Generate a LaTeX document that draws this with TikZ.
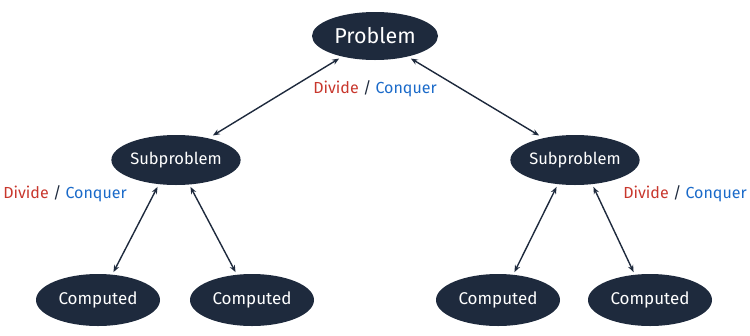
\documentclass[tikz,border=0pt]{standalone}
\usepackage{fontspec}
\setmainfont{Fira Sans}
\usetikzlibrary{arrows.meta,shapes.geometric}
\definecolor{navy}{HTML}{1E2A3D}
\definecolor{dred}{HTML}{C8372D}
\definecolor{dblue}{HTML}{1A6AC9}
\tikzset{
  blob/.style={ellipse, fill=navy, text=white, inner sep=0pt},
  conn/.style={draw=navy, line width=1.4pt, {Stealth[length=7pt,width=5.5pt]}-{Stealth[length=7pt,width=5.5pt]}, shorten <=1pt, shorten >=1pt},
  lbl/.style={font=\fontsize{16}{18}\selectfont, inner sep=0pt}
}
\begin{document}
\begin{tikzpicture}[x=1pt,y=-1pt]
\useasboundingbox (0,0) rectangle (750,335);
\node[blob, minimum width=126pt, minimum height=48pt, font=\fontsize{21.5}{24}\selectfont] (p) at (375,36) {Problem};
\node[blob, minimum width=124pt, minimum height=50pt, font=\fontsize{16.5}{19}\selectfont] (sl) at (176,160) {Subproblem};
\node[blob, minimum width=124pt, minimum height=50pt, font=\fontsize{16.5}{19}\selectfont] (sr) at (575,160) {Subproblem};
\node[blob, minimum width=124pt, minimum height=52pt, font=\fontsize{17}{19}\selectfont] (c1) at (98,300) {Computed};
\node[blob, minimum width=124pt, minimum height=52pt, font=\fontsize{17}{19}\selectfont] (c2) at (252,300) {Computed};
\node[blob, minimum width=124pt, minimum height=52pt, font=\fontsize{17}{19}\selectfont] (c3) at (498,300) {Computed};
\node[blob, minimum width=124pt, minimum height=52pt, font=\fontsize{17}{19}\selectfont] (c4) at (650,300) {Computed};
\coordinate (p1) at (340,58); \coordinate (p2) at (410,58);
\coordinate (a1) at (212,136); \coordinate (a2) at (540,136);
\coordinate (l1) at (158,186); \coordinate (l2) at (190,186);
\coordinate (r1) at (557,186); \coordinate (r2) at (593,186);
\coordinate (b1) at (113,273); \coordinate (b2) at (236,273);
\coordinate (b3) at (514,273); \coordinate (b4) at (634,273);
\draw[conn] (p1) -- (a1);
\draw[conn] (p2) -- (a2);
\draw[conn] (l1) -- (b1);
\draw[conn] (l2) -- (b2);
\draw[conn] (r1) -- (b3);
\draw[conn] (r2) -- (b4);
\node[lbl] (t1) at (375,89) {\textcolor{dred}{Divide} \textcolor{navy}{/} \textcolor{dblue}{Conquer}};
\node[lbl] (t2) at (65,194) {\textcolor{dred}{Divide} \textcolor{navy}{/} \textcolor{dblue}{Conquer}};
\node[lbl] (t3) at (685,194) {\textcolor{dred}{Divide} \textcolor{navy}{/} \textcolor{dblue}{Conquer}};
\end{tikzpicture}
\end{document}
